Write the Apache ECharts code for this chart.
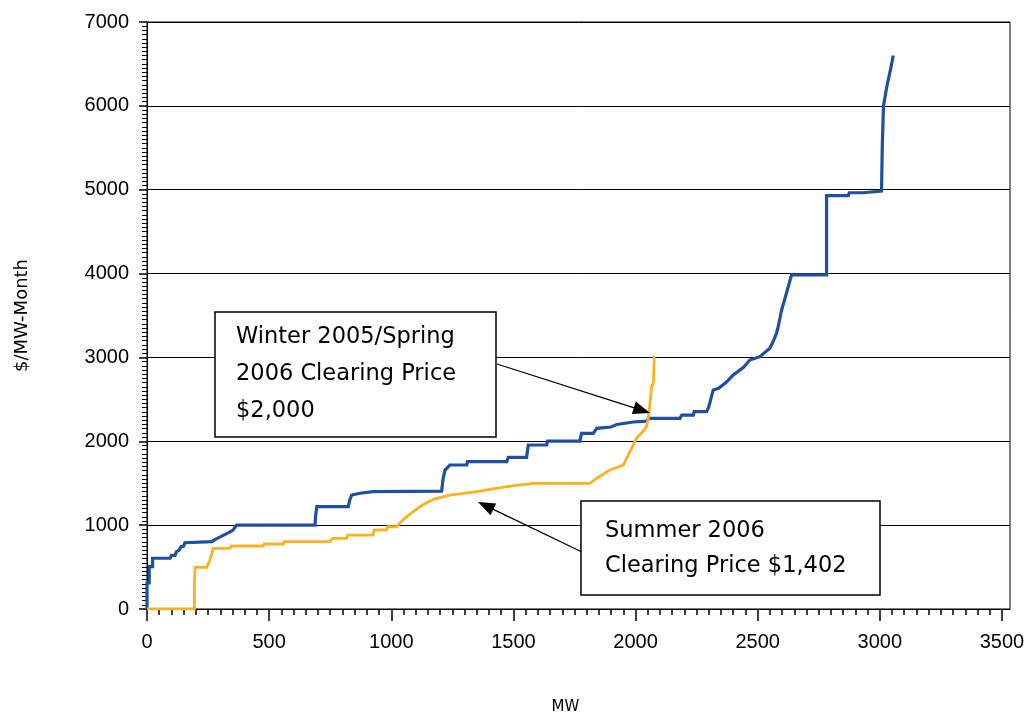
<!DOCTYPE html>
<html>
<head>
<meta charset="utf-8">
<script src="https://cdn.jsdelivr.net/npm/echarts@6/dist/echarts.min.js"></script>
<style>
  html, body { margin: 0; padding: 0; background: #ffffff; }
  #chart { width: 1024px; height: 715px; }
</style>
</head>
<body>
<div id="chart"></div>
<script>
// Winter 2005/Spring 2006 supply curve (MW, $/MW-Month)
const winterMW = [0, 0, 9, 9, 23, 23, 95, 100, 115, 120, 130, 140, 150, 155, 162, 265, 280, 300, 320, 340, 352, 367,
  688, 690, 695, 824, 830, 838, 872, 926, 1206, 1212, 1220, 1240, 1309, 1312, 1473, 1479, 1554, 1561, 1636, 1640,
  1772, 1779, 1827, 1841, 1900, 1923, 1991, 2045, 2055, 2182, 2189, 2236, 2240, 2291, 2300, 2318, 2340, 2370, 2400,
  2441, 2468, 2509, 2550, 2563, 2577, 2584, 2598, 2612, 2625, 2639, 2782, 2782, 2871, 2875, 2932, 2935, 3007, 3010,
  3015, 3030, 3045, 3055];
const winterPrice = [0, 310, 310, 505, 505, 605, 605, 640, 640, 683, 700, 743, 750, 790, 803, 803, 830, 860, 890, 920, 942, 1000,
  1000, 1100, 1220, 1220, 1300, 1359, 1380, 1400, 1405, 1550, 1657, 1717, 1717, 1757, 1757, 1809, 1809, 1956, 1956, 2003,
  2003, 2095, 2095, 2155, 2170, 2200, 2230, 2240, 2274, 2274, 2313, 2313, 2353, 2353, 2412, 2612, 2632, 2700, 2790,
  2880, 2969, 3009, 3109, 3187, 3288, 3366, 3565, 3705, 3843, 3985, 3985, 4930, 4930, 4964, 4964, 4984, 4984, 5500,
  6000, 6250, 6450, 6600];

// Summer 2006 supply curve (MW, $/MW-Month)
const summerMW = [0, 194, 194, 197, 244, 255, 263, 271, 340, 345, 476, 480, 558, 562, 749, 760, 817, 822, 926, 930, 981, 985,
  1022, 1036, 1063, 1090, 1117, 1145, 1172, 1240, 1350, 1473, 1582, 1813, 1841, 1895, 1950, 1977, 2004, 2031, 2045,
  2052, 2059, 2066, 2073, 2077];
const summerPrice = [0, 0, 306, 497, 497, 564, 640, 724, 724, 751, 751, 775, 775, 803, 803, 843, 843, 882, 882, 942, 942, 981,
  981, 1029, 1101, 1160, 1220, 1268, 1308, 1359, 1399, 1458, 1499, 1499, 1559, 1657, 1717, 1876, 2036, 2120, 2175,
  2274, 2453, 2651, 2700, 3017];

// Axis tick labels
const xTickValues = [0, 500, 1000, 1500, 2000, 2500, 3000, 3500];
const yTickValues = [0, 1000, 2000, 3000, 4000, 5000, 6000, 7000];

// Callout texts
const winterNote = ['Winter 2005/Spring', '2006 Clearing Price', '$2,000'];
const summerNote = ['Summer 2006', 'Clearing Price $1,402'];

const xMinorTicks = [];
for (let v = 50; v < 3500; v += 50) {
  if (v % 500 !== 0) xMinorTicks.push(v);
}

const pairs = (xs, ys) => xs.map((x, i) => [x, ys[i]]);

function arrowHead(x1, y1, x2, y2, len, half) {
  const dx = x2 - x1, dy = y2 - y1;
  const d = Math.hypot(dx, dy);
  const ux = dx / d, uy = dy / d;
  const bx = x2 - ux * len, by = y2 - uy * len;
  return [[x2, y2], [bx - uy * half, by + ux * half], [bx + uy * half, by - ux * half]];
}

const chart = echarts.init(document.getElementById('chart'), null, { renderer: 'canvas' });

const plain = (v) => String(v);
const tickFont = { fontFamily: 'Liberation Sans', fontSize: 20, color: '#000', formatter: plain };
const noteFont = '22.5px "DejaVu Sans"';

const a1 = [497, 364, 650, 413];
const a2 = [582, 552, 478, 502];

chart.setOption({
  animation: false,
  backgroundColor: '#ffffff',
  grid: {
    left: 147, top: 22, width: 863, height: 587,
    outerBoundsMode: 'none', containLabel: false,
    show: true, borderColor: '#000', borderWidth: 1, backgroundColor: 'transparent'
  },
  xAxis: [{
    type: 'value', min: 0, max: 3533, interval: 500, position: 'bottom',
    name: 'MW', nameLocation: 'middle', nameGap: 91,
    nameTextStyle: { fontFamily: 'DejaVu Sans', fontSize: 15, color: '#000', padding: [0, 26, 0, 0] },
    axisLine: { show: true, lineStyle: { color: '#000', width: 1 } },
    axisTick: { show: true, length: 12, customValues: xTickValues, lineStyle: { color: '#000', width: 1.5 } },
    axisLabel: { customValues: xTickValues, margin: 23, ...tickFont },
    splitLine: { show: false }
  }, {
    type: 'value', min: 0, max: 3533, position: 'bottom',
    axisLine: { show: false },
    axisTick: { show: true, length: 6, customValues: xMinorTicks, lineStyle: { color: '#000', width: 1.5 } },
    axisLabel: { show: false },
    splitLine: { show: false }
  }],
  yAxis: {
    type: 'value', min: 0, max: 7000, interval: 1000,
    name: '$/MW-Month', nameLocation: 'middle', nameGap: 116,
    nameTextStyle: { fontFamily: 'DejaVu Sans', fontSize: 18, color: '#000' },
    axisLine: { show: true, lineStyle: { color: '#000', width: 1 } },
    axisTick: { show: true, length: 8, lineStyle: { color: '#000', width: 1.5 } },
    minorTick: { show: true, splitNumber: 20, length: 5, lineStyle: { color: '#000', width: 1 } },
    axisLabel: { margin: 18, customValues: yTickValues, ...tickFont },
    splitLine: { show: true, lineStyle: { color: '#000', width: 1 } }
  },
  series: [{
    name: 'Winter 2005/Spring 2006',
    type: 'line', xAxisIndex: 0,
    data: pairs(winterMW, winterPrice),
    showSymbol: false, symbol: 'none',
    lineStyle: { color: '#1F4FA3', width: 3.2, join: 'miter' },
    z: 3
  }, {
    name: 'Summer 2006',
    type: 'line', xAxisIndex: 0,
    data: pairs(summerMW, summerPrice),
    showSymbol: false, symbol: 'none',
    lineStyle: { color: '#FBB122', width: 2.8, join: 'miter' },
    z: 4
  }],
  graphic: [
    { type: 'line', z: 50, shape: { x1: a1[0], y1: a1[1], x2: a1[2] - 8, y2: a1[3] - 2.6 }, style: { stroke: '#000', lineWidth: 1.3 } },
    { type: 'polygon', z: 50, shape: { points: arrowHead(a1[0], a1[1], a1[2], a1[3], 17, 6.5) }, style: { fill: '#000' } },
    { type: 'line', z: 50, shape: { x1: a2[0], y1: a2[1], x2: a2[2] + 8, y2: a2[3] + 3.8 }, style: { stroke: '#000', lineWidth: 1.3 } },
    { type: 'polygon', z: 50, shape: { points: arrowHead(a2[0], a2[1], a2[2], a2[3], 17, 6.5) }, style: { fill: '#000' } },
    { type: 'rect', z: 60, shape: { x: 215, y: 312, width: 281, height: 125 }, style: { fill: '#fff', stroke: '#000', lineWidth: 1.5 } },
    { type: 'text', z: 61, x: 236, y: 319, style: { text: winterNote.join('\n'), font: noteFont, fill: '#000', lineHeight: 37, verticalAlign: 'top' } },
    { type: 'rect', z: 60, shape: { x: 581, y: 501, width: 299, height: 94 }, style: { fill: '#fff', stroke: '#000', lineWidth: 1.5 } },
    { type: 'text', z: 61, x: 605, y: 514, style: { text: summerNote.join('\n'), font: noteFont, fill: '#000', lineHeight: 35, verticalAlign: 'top' } }
  ]
});
</script>
</body>
</html>
